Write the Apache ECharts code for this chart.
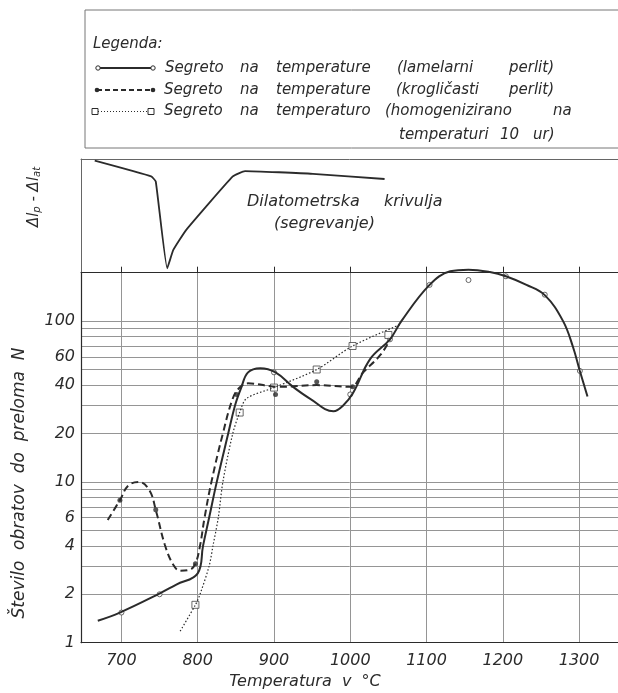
<!DOCTYPE html>
<html><head><meta charset="utf-8">
<script src="https://cdn.jsdelivr.net/npm/echarts@6/dist/echarts.min.js"></script>
<style>html,body{margin:0;padding:0;background:#fff}#c{width:618px;height:693px}</style>
</head><body><div id="c"></div>
<script>
// ---- axis ticks ----
const xTicks = [700, 800, 900, 1000, 1100, 1200, 1300];
const yGridValues = [1,2,3,4,5,6,7,8,9,10,20,30,40,50,60,70,80,90,100,200];
const yTickLabels = [1, 2, 4, 6, 10, 20, 40, 60, 100];

// ---- dilatometric curve (arbitrary units 0..100) ----
const dilT = [665, 739, 745, 760, 768, 785, 846, 862, 951, 1045];
const dilV = [98.5, 84.7, 80.2, 3.9, 20, 37.7, 84.7, 89.4, 87, 82.4];

// ---- lamellar pearlite (solid) ----
const lamT = [669, 698, 748, 772, 800, 807, 815, 825, 840, 849, 857, 866, 882, 902, 925, 947, 978, 991, 1004, 1026, 1052, 1067, 1104, 1131, 1155, 1183, 1204, 1231, 1255, 1279, 1292, 1301, 1311];
const lamN = [1.37, 1.54, 2.0, 2.3, 2.7, 4, 6, 10, 20, 30, 38.5, 48, 51, 48, 39, 33, 27.5, 30, 36, 58, 77, 100, 168, 204, 209, 202, 190, 168, 145, 100, 69, 49, 34];
const lamMarkT = [700, 750, 900, 1000, 1052, 1104, 1155, 1204, 1255, 1301];
const lamMarkN = [1.54, 2.0, 48, 35, 77, 168, 180, 190, 146, 49];

// ---- spheroidized pearlite (dashed) ----
const sphT = [682, 698, 709, 723, 737, 745, 757, 768, 777, 790, 797, 803, 809, 818, 833, 846, 855, 866, 906, 956, 1000, 1017, 1040, 1052];
const sphN = [5.8, 7.7, 9.5, 10, 8.8, 6.7, 4.05, 3.05, 2.8, 2.85, 3.1, 4, 6, 10, 20, 33, 38.6, 41, 39, 40, 39, 48, 62, 77];
const sphMarkT = [698, 745, 797, 851, 902, 956, 1003];
const sphMarkN = [7.7, 6.7, 3.1, 35, 35, 42, 39];

// ---- homogenized (dotted) ----
const homT = [777, 797, 803, 815, 820, 827, 833, 846, 855, 864, 900, 956, 1003, 1065];
const homN = [1.18, 1.72, 2, 3, 4, 6, 10, 20, 27, 33, 38.6, 50, 70, 95];
const homMarkT = [797, 855, 900, 956, 1003, 1050];
const homMarkN = [1.72, 27, 38.6, 50, 70, 82];

const zip = (a, b) => a.map((v, i) => [v, b[i]]);
const INK = '#2b2b2b';
const GRID = '#959595';
const FONT = '"DejaVu Sans"';
const X0 = 647, X1 = 1351;

const chart = echarts.init(document.getElementById('c'), null, {renderer: 'canvas'});

function words(list, y, size) {
  return list.map(([t, x]) => ({
    type: 'text', x: x, y: y,
    style: {text: t, font: 'italic ' + (size || 15) + 'px ' + FONT, fill: INK, align: 'left', verticalAlign: 'middle'}
  }));
}

const graphic = [
  // legend box
  {type: 'polyline', shape: {points: [[618, 10], [85, 10], [85, 148], [618, 148]]},
   style: {stroke: '#777', lineWidth: 1, fill: null}},
  {type: 'text', x: 93, y: 44, style: {text: 'Legenda:', font: 'italic 15px ' + FONT, fill: INK, align: 'left', verticalAlign: 'middle'}},
  // row 1 symbol
  {type: 'line', shape: {x1: 98, y1: 68, x2: 153, y2: 68}, style: {stroke: INK, lineWidth: 1.8}},
  {type: 'circle', shape: {cx: 98, cy: 68, r: 2.2}, style: {fill: '#fff', stroke: INK, lineWidth: 1}},
  {type: 'circle', shape: {cx: 153, cy: 68, r: 2.2}, style: {fill: '#fff', stroke: INK, lineWidth: 1}},
  // row 2 symbol
  {type: 'line', shape: {x1: 97, y1: 90, x2: 153, y2: 90}, style: {stroke: INK, lineWidth: 1.8, lineDash: [5, 3]}},
  {type: 'circle', shape: {cx: 97, cy: 90, r: 2.3}, style: {fill: INK}},
  {type: 'circle', shape: {cx: 153, cy: 90, r: 2.3}, style: {fill: INK}},
  // row 3 symbol
  {type: 'line', shape: {x1: 98, y1: 111.5, x2: 148, y2: 111.5}, style: {stroke: INK, lineWidth: 1, lineDash: [1, 2]}},
  {type: 'rect', shape: {x: 92, y: 108.5, width: 6, height: 6}, style: {fill: '#fff', stroke: INK, lineWidth: 1}},
  {type: 'rect', shape: {x: 148, y: 108.5, width: 6, height: 6}, style: {fill: '#fff', stroke: INK, lineWidth: 1}},
  ...words([['Segreto', 165], ['na', 240], ['temperature', 276], ['(lamelarni', 397], ['perlit)', 509]], 68),
  ...words([['Segreto', 164], ['na', 240], ['temperature', 276], ['(krogličasti', 396], ['perlit)', 509]], 90),
  ...words([['Segreto', 164], ['na', 240], ['temperaturo', 276], ['(homogenizirano', 385], ['na', 553]], 111.5),
  ...words([['temperaturi', 399], ['10', 500], ['ur)', 533]], 135.5),
  // dilatometric caption
  ...words([['Dilatometrska', 247], ['krivulja', 384]], 202, 16),
  {type: 'text', x: 274, y: 224, style: {text: '(segrevanje)', font: 'italic 16px ' + FONT, fill: INK, align: 'left', verticalAlign: 'middle'}},
  // axis titles
  {type: 'text', x: 305, y: 682, style: {text: 'Temperatura  v  °C', font: 'italic 16px ' + FONT, fill: INK, align: 'center', verticalAlign: 'middle'}},
  {type: 'text', x: 20, y: 483, rotation: Math.PI / 2,
   style: {text: 'Število  obratov  do  preloma  N', font: 'italic 17px ' + FONT, fill: INK, align: 'center', verticalAlign: 'middle'}},
  {type: 'text', x: 34, y: 197, rotation: Math.PI / 2,
   style: {text: 'Δl{s|p} - Δl{s|at}', font: 'italic 15px ' + FONT, fill: INK, align: 'center', verticalAlign: 'middle',
     rich: {s: {font: 'italic 10px ' + FONT, fill: INK, verticalAlign: 'bottom', padding: [6, 0, 0, 0]}}}}
];

chart.setOption({
  backgroundColor: '#fff',
  animation: false,
  grid: [
    {left: 81, right: 0, top: 159, height: 113.7},
    {left: 81, right: 0, top: 272.7, height: 370}
  ],
  xAxis: [
    {type: 'value', gridIndex: 0, min: X0, max: X1, position: 'bottom',
     axisLine: {show: true, lineStyle: {color: INK, width: 1}},
     axisTick: {show: true, inside: true, length: 6, customValues: xTicks, lineStyle: {color: INK}},
     axisLabel: {show: false}, splitLine: {show: false}},
    {type: 'value', gridIndex: 1, min: X0, max: X1,
     axisLine: {show: true, onZero: false, lineStyle: {color: INK, width: 1.2}},
     axisTick: {show: false, customValues: xTicks},
     axisLabel: {show: true, customValues: xTicks, margin: 10, color: INK, fontSize: 16, fontStyle: 'italic', fontFamily: FONT,
       formatter: v => String(v)},
     splitLine: {show: true, lineStyle: {color: GRID, width: 1}}},
    {type: 'value', gridIndex: 0, min: X0, max: X1, position: 'top',
     axisLine: {show: true, lineStyle: {color: '#666', width: 1}},
     axisTick: {show: false}, axisLabel: {show: false}, splitLine: {show: false}}
  ],
  yAxis: [
    {type: 'value', gridIndex: 0, min: 0, max: 100,
     axisLine: {show: true, lineStyle: {color: '#666', width: 1}},
     axisTick: {show: false}, axisLabel: {show: false}, splitLine: {show: false}},
    {type: 'log', logBase: 10, gridIndex: 1, min: 1, max: 200,
     axisLine: {show: true, lineStyle: {color: INK, width: 1.2}},
     axisTick: {show: false, customValues: yGridValues},
     axisLabel: {show: true, customValues: yTickLabels, margin: 6, color: INK, fontSize: 16, fontStyle: 'italic', fontFamily: FONT,
       formatter: v => String(v)},
     splitLine: {show: true, lineStyle: {color: GRID, width: 1}}}
  ],
  series: [
    {type: 'line', xAxisIndex: 0, yAxisIndex: 0, data: zip(dilT, dilV), showSymbol: false, smooth: 0.12,
     lineStyle: {color: INK, width: 1.8}},
    {type: 'line', xAxisIndex: 1, yAxisIndex: 1, data: zip(lamT, lamN), showSymbol: false, smooth: 0.4, clip: false,
     lineStyle: {color: INK, width: 2}},
    {type: 'line', xAxisIndex: 1, yAxisIndex: 1, data: zip(sphT, sphN), showSymbol: false, smooth: 0.4,
     lineStyle: {color: INK, width: 2, type: [7, 4]}},
    {type: 'line', xAxisIndex: 1, yAxisIndex: 1, data: zip(homT, homN), showSymbol: false, smooth: 0.3,
     lineStyle: {color: INK, width: 1.2, type: [1.5, 2]}},
    {type: 'scatter', xAxisIndex: 1, yAxisIndex: 1, data: zip(lamMarkT, lamMarkN), symbol: 'circle', symbolSize: 5, clip: false,
     itemStyle: {color: '#fff', borderColor: '#444', borderWidth: 1}},
    {type: 'scatter', xAxisIndex: 1, yAxisIndex: 1, data: zip(sphMarkT, sphMarkN), symbol: 'circle', symbolSize: 5,
     itemStyle: {color: INK}},
    {type: 'scatter', xAxisIndex: 1, yAxisIndex: 1, data: zip(homMarkT, homMarkN), symbol: 'rect', symbolSize: 7,
     itemStyle: {color: '#fff', borderColor: '#444', borderWidth: 1}}
  ],
  graphic: graphic
});
</script></body></html>
